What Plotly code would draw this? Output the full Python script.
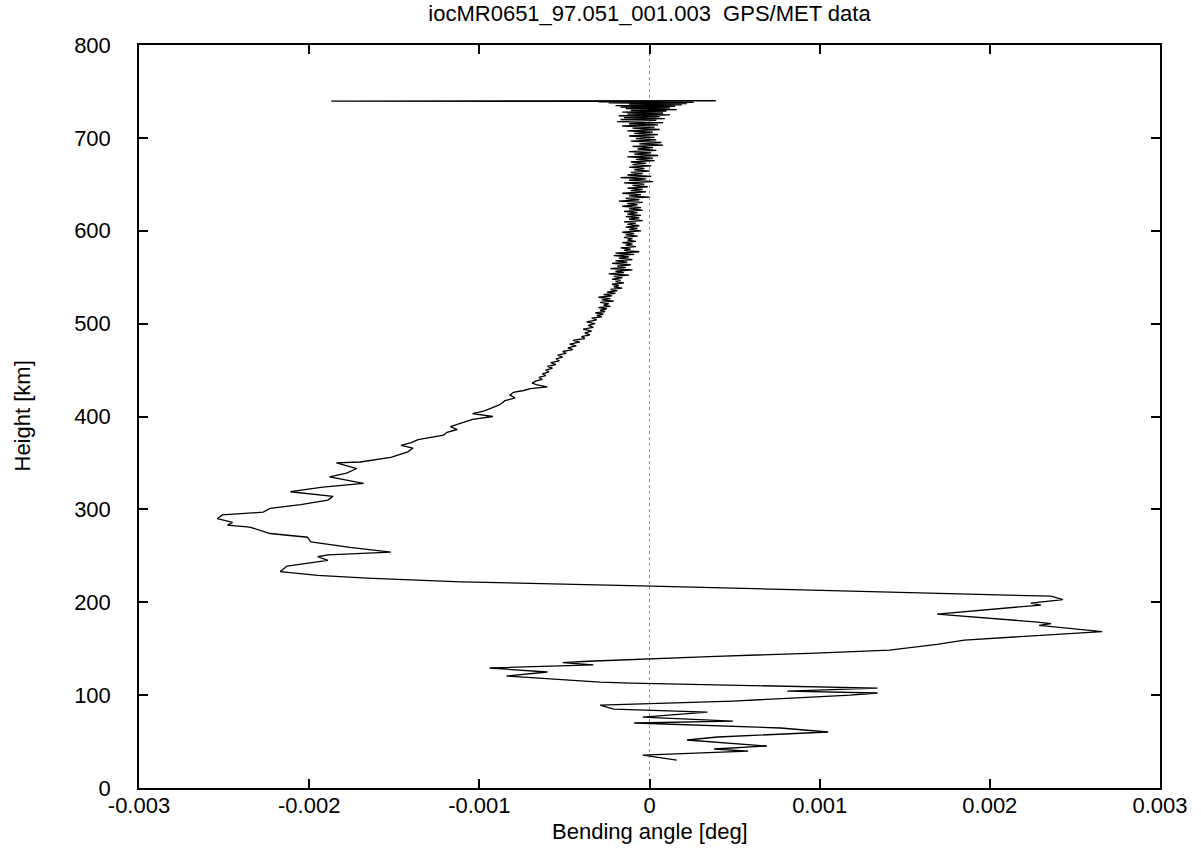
import plotly.graph_objects as go

# Height (km) and bending angle (deg), top to bottom
height_km = [
    740.0, 739.6, 739.2, 738.8, 738.3, 737.6, 737.0, 736.3, 735.6, 734.8,
    734.0, 733.2, 732.3, 731.4, 730.5, 729.6, 728.7, 727.8, 726.8, 725.8,
    724.8, 723.8, 722.8, 721.8, 720.8, 719.8, 718.8, 717.6, 716.4, 715.2,
    714.0, 712.8, 711.6, 710.4, 709.0, 707.6, 706.2, 704.8, 703.4, 702.0,
    700.6, 699.2, 697.8, 696.4, 695.0, 693.6, 692.2, 690.8, 689.4, 688.0,
    686.6, 685.2, 683.8, 682.4, 681.0, 679.6, 678.2, 676.8, 675.4, 674.0,
    672.6, 671.2, 669.8, 668.4, 667.0, 665.6, 664.2, 662.8, 661.4, 660.0,
    658.6, 657.2, 655.8, 654.4, 653.0, 651.6, 650.2, 648.8, 647.4, 646.0,
    644.6, 643.2, 641.8, 640.4, 639.0, 637.6, 636.2, 634.8, 633.4, 632.0,
    630.6, 629.2, 627.8, 626.4, 625.0, 623.6, 622.2, 620.8, 619.4, 618.0,
    616.6, 615.2, 613.8, 612.4, 611.0, 609.6, 608.2, 606.8, 605.4, 604.0,
    602.6, 601.2, 599.8, 598.4, 597.0, 595.6, 594.2, 592.8, 591.4, 590.0,
    588.6, 587.2, 585.8, 584.4, 583.0, 581.6, 580.2, 578.8, 577.4, 576.0,
    574.6, 573.2, 571.8, 570.4, 569.0, 567.6, 566.2, 564.8, 563.4, 562.0,
    560.6, 559.2, 557.8, 556.4, 555.0, 553.6, 552.2, 550.8, 549.4, 548.0,
    546.6, 545.2, 543.8, 542.4, 541.0, 539.6, 538.2, 536.8, 535.4, 534.0,
    532.6, 531.2, 529.8, 528.4, 527.0, 525.6, 524.2, 522.8, 521.4, 520.0,
    518.6, 517.2, 515.8, 514.4, 513.0, 511.6, 510.2, 508.8, 507.4, 506.0,
    504.0, 502.0, 500.0, 498.0, 496.0, 494.0, 492.0, 490.0, 488.0, 486.0,
    484.0, 482.0, 480.0, 478.0, 476.0, 474.0, 472.0, 470.0, 468.0, 466.0,
    464.0, 462.0, 460.0, 458.0, 456.0, 454.0, 452.0, 450.0, 448.0, 446.0,
    444.0, 442.0, 440.0, 438.0, 436.0, 434.0, 432.0, 430.0, 428.0, 426.0,
    423.0, 420.0, 417.0, 414.0, 412.0, 409.0, 406.0, 403.0, 400.0, 397.0,
    393.0, 389.0, 386.0, 383.0, 380.0, 377.0, 375.0, 372.0, 369.0, 366.0,
    362.0, 356.0, 351.0, 350.0, 344.0, 339.0, 335.0, 328.0, 324.0, 319.0,
    314.0, 310.0, 305.0, 301.0, 297.0, 294.0, 290.0, 286.0, 283.0, 281.0,
    274.0, 270.0, 265.0, 259.0, 254.0, 251.0, 249.0, 245.0, 239.0, 233.0,
    229.0, 226.0, 222.0, 217.7, 213.0, 208.4, 206.5, 202.8, 199.0, 197.0,
    187.3, 178.7, 176.9, 175.0, 168.4, 159.3, 154.6, 148.5, 145.3,
    141.5, 139.0, 136.5, 135.0, 132.6, 129.2, 124.9, 120.6, 114.1, 113.0,
    108.5, 107.5, 104.4, 102.3, 100.0, 93.6, 89.3, 85.0, 81.8, 76.4,
    72.1, 70.0, 64.6, 60.3, 54.9, 51.7, 45.2, 42.0, 39.8, 35.5, 30.1,
]

bend_deg = [
    0.00039, -0.00187, -0.00008, -0.00030, 0.00026, -0.00024, 0.00022, -0.00012, 0.00019, -0.00020,
    0.00015, -0.00017, 0.00012, -0.00014, 0.00016, -0.00011, 0.00010, -0.00016, 0.00008, -0.00013,
    0.00012, -0.00018, 0.00006, -0.00015, 0.00009, -0.00017, 0.00004, -0.00019, 0.00008, -0.00012,
    0.00005, -0.00016, 0.00003, -0.00010, 0.00006, -0.00013, 0.00002, -0.00009, 0.00005, -0.00012,
    0.00003, -0.00008, 0.00004, -0.00011, 0.00007, -0.00006, 0.00008, -0.00010, 0.00002, -0.00007,
    0.00004, -0.00012, 0.00001, -0.00009, 0.00005, -0.00013, 0.00002, -0.00008, 0.00003, -0.00011,
    -0.00002, -0.00010, 0.00001, -0.00012, -0.00003, -0.00009, 0.00000, -0.00011, -0.00004, -0.00013,
    0.00001, -0.00017, -0.00002, -0.00012, 0.00002, -0.00015, -0.00003, -0.00010, -0.00001, -0.00013,
    -0.00004, -0.00011, -0.00002, -0.00016, -0.00005, -0.00012, 0.00000, -0.00014, -0.00006, -0.00018,
    -0.00004, -0.00013, -0.00007, -0.00016, -0.00005, -0.00012, -0.00004, -0.00015, -0.00007, -0.00013,
    -0.00005, -0.00014, -0.00006, -0.00012, -0.00004, -0.00015, -0.00008, -0.00013, -0.00006, -0.00014,
    -0.00007, -0.00012, -0.00005, -0.00016, -0.00009, -0.00014, -0.00007, -0.00015, -0.00010, -0.00013,
    -0.00008, -0.00016, -0.00010, -0.00014, -0.00008, -0.00017, -0.00011, -0.00015, -0.00006, -0.00020,
    -0.00009, -0.00021, -0.00012, -0.00018, -0.00010, -0.00020, -0.00013, -0.00022, -0.00011, -0.00019,
    -0.00014, -0.00023, -0.00010, -0.00020, -0.00015, -0.00024, -0.00012, -0.00021, -0.00016, -0.00022,
    -0.00017, -0.00020, -0.00015, -0.00022, -0.00018, -0.00021, -0.00016, -0.00023, -0.00019, -0.00025,
    -0.00020, -0.00027, -0.00022, -0.00030, -0.00023, -0.00028, -0.00021, -0.00029, -0.00024, -0.00027,
    -0.00023, -0.00030, -0.00025, -0.00029, -0.00026, -0.00032, -0.00027, -0.00031, -0.00028, -0.00034,
    -0.00031, -0.00037, -0.00032, -0.00036, -0.00033, -0.00039, -0.00034, -0.00038, -0.00035, -0.00040,
    -0.00038, -0.00045, -0.00041, -0.00047, -0.00043, -0.00048, -0.00045, -0.00051, -0.00049, -0.00054,
    -0.00051, -0.00055, -0.00053, -0.00058, -0.00055, -0.00060, -0.00057, -0.00061, -0.00059, -0.00063,
    -0.00061, -0.00065, -0.00063, -0.00067, -0.00069, -0.00066, -0.00060, -0.00070, -0.00074, -0.00080,
    -0.00082, -0.00079, -0.00085, -0.00087, -0.00089, -0.00093, -0.00097, -0.00104, -0.00092, -0.00104,
    -0.00111, -0.00117, -0.00113, -0.00119, -0.00121, -0.00129, -0.00136, -0.00140, -0.00146, -0.00139,
    -0.00142, -0.00152, -0.00170, -0.00184, -0.00172, -0.00178, -0.00188, -0.00168, -0.00192, -0.00211,
    -0.00186, -0.00189, -0.00205, -0.00223, -0.00227, -0.00251, -0.00254, -0.00245, -0.00248, -0.00235,
    -0.00223, -0.00201, -0.00199, -0.00176, -0.00152, -0.00189, -0.00195, -0.00189, -0.00213, -0.00217,
    -0.00195, -0.00166, -0.00111, -0.00005, 0.00096, 0.00203, 0.00236, 0.00243, 0.00224, 0.00230,
    0.00169, 0.00228, 0.00236, 0.00229, 0.00266, 0.00185, 0.00169, 0.00141, 0.00098,
    0.00035, -0.00005, -0.00036, -0.00051, -0.00033, -0.00094, -0.00060, -0.00084, -0.00029, -0.00011,
    0.00118, 0.00134, 0.00081, 0.00134, 0.00118, 0.00049, -0.00029, -0.00021, 0.00034, -0.00004,
    0.00049, -0.00009, 0.00077, 0.00105, 0.00040, 0.00022, 0.00069, 0.00038, 0.00058, -0.00004, 0.00016,
]

x_tick_vals = [-0.003, -0.002, -0.001, 0, 0.001, 0.002, 0.003]
x_tick_text = ["-0.003", "-0.002", "-0.001", "0", "0.001", "0.002", "0.003"]
y_tick_vals = [0, 100, 200, 300, 400, 500, 600, 700, 800]
y_tick_text = ["0", "100", "200", "300", "400", "500", "600", "700", "800"]

title_text = "iocMR0651_97.051_001.003  GPS/MET data"
x_title = "Bending angle [deg]"
y_title = "Height [km]"

FONT = "Liberation Sans, Arial, Helvetica, sans-serif"
FS = 22

fig = go.Figure()
fig.add_trace(go.Scatter(
    x=bend_deg, y=height_km, mode="lines",
    line=dict(color="black", width=1.3),
    showlegend=False, hoverinfo="skip",
))

# dotted zero line
fig.add_shape(type="line", xref="x", yref="y", x0=0, x1=0, y0=0, y1=800,
              line=dict(color="#999999", width=1, dash="dot"), layer="below")

axis_common = dict(
    showline=True, linecolor="black", linewidth=1.5, mirror="ticks",
    ticks="inside", ticklen=9, tickwidth=1.5, tickcolor="black",
    showgrid=False, zeroline=False,
    tickfont=dict(family=FONT, size=FS, color="black"),
)

fig.update_xaxes(range=[-0.003, 0.003], tickvals=x_tick_vals, ticktext=x_tick_text,
                 ticklabelstandoff=-3, **axis_common)
fig.update_yaxes(range=[0, 800], tickvals=y_tick_vals, ticktext=y_tick_text,
                 ticklabelstandoff=22, **axis_common)

fig.update_layout(
    width=1201, height=855,
    margin=dict(l=139, r=41, t=45, b=67, pad=0),
    paper_bgcolor="white", plot_bgcolor="white",
    font=dict(family=FONT, size=FS, color="black"),
    title=dict(text=title_text, x=0.5, xref="paper", y=1 - 13 / 855, yref="container",
               xanchor="center", yanchor="middle",
               font=dict(family=FONT, size=FS, color="black")),
    annotations=[
        dict(text=x_title, xref="paper", yref="paper", x=0.5, y=-(831 - 788) / 743,
             xanchor="center", yanchor="middle", showarrow=False,
             font=dict(family=FONT, size=FS, color="black")),
        dict(text=y_title, xref="paper", yref="paper", x=(22 - 139) / 1021, y=0.5,
             xanchor="center", yanchor="middle", textangle=-90, showarrow=False,
             font=dict(family=FONT, size=FS, color="black")),
    ],
)

fig.write_html(
    "out.html",
    config={"displayModeBar": False},
    post_script="document.body.style.margin='0';document.body.style.overflow='hidden';",
)
